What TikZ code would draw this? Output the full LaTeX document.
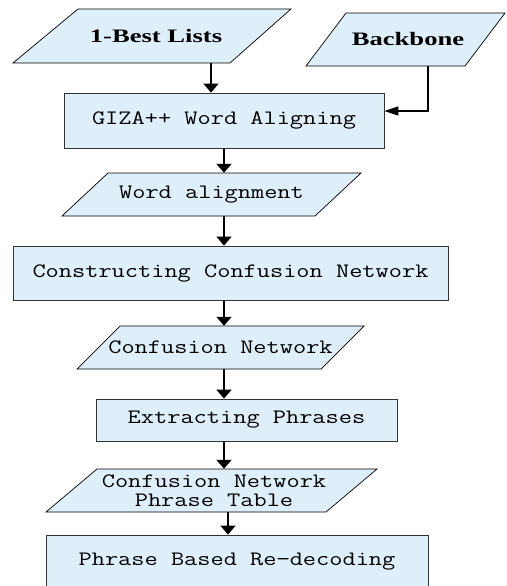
\documentclass[tikz,border=0pt]{standalone}
\usepackage{fontspec}
\newfontfamily\boxfont{Latin Modern Mono}[FakeStretch=1.25]
\newfontfamily\headfont{Liberation Serif}[FakeStretch=1.4]
\usetikzlibrary{arrows.meta}
\definecolor{boxblue}{RGB}{222,239,250}
\tikzset{
  procbox/.style={draw=black!80, fill=boxblue, line width=.8pt, inner sep=0pt,
    font=\boxfont\fontsize{20.5}{19}\selectfont},
  iofill/.style={draw=black, fill=boxblue, line width=.7pt},
  iotext/.style={inner sep=0pt, align=center, font=\boxfont\fontsize{20.5}{19}\selectfont},
  headtext/.style={iotext, font=\headfont\bfseries\fontsize{19}{20}\selectfont},
  flow/.style={->, line width=1.5pt},
}
\begin{document}
\begin{tikzpicture}[x=1pt, y=-1pt, >={Triangle[width=15pt,length=9pt]}]
\useasboundingbox (0,0) rectangle (506,586);
\coordinate(spine) at (224,0);

% inputs
\filldraw[iofill](13,63)--(230,63)--(291,9)--(78,9)--cycle;
\node[headtext, minimum height=54pt](blist) at (156,36){1-Best Lists};
\filldraw[iofill](306,66)--(465,66)--(505,13)--(346,13)--cycle;
\node[headtext, minimum height=53pt](backbone) at (408,39.5){Backbone};

\node[procbox, minimum width=320pt, minimum height=55pt](giza) at (224,120.5){GIZA++ Word Aligning};

\filldraw[iofill](62,216)--(315,216)--(361,173)--(108,173)--cycle;
\node[iotext, minimum height=43pt](walign) at (211.5,194.5){Word alignment};

\node[procbox, minimum width=435pt, minimum height=54pt](construct) at (230.5,273){Constructing Confusion Network};

\filldraw[iofill](77,369)--(321,369)--(364,326)--(120,326)--cycle;
\node[iotext, minimum height=43pt](cnet) at (220.5,347.5){Confusion Network};

\node[procbox, minimum width=301pt, minimum height=42pt](extract) at (246.5,420){Extracting Phrases};

\filldraw[iofill](46,512)--(326,512)--(377,469)--(97,469)--cycle;
\node[iotext, minimum height=43pt](cnpt) at (214,490.5){Confusion Network\\Phrase Table};

\node[procbox, minimum width=382pt, minimum height=54pt](redecode) at (237,562){Phrase Based Re−decoding};

% arrows
\draw[flow]([xshift=-13pt]giza.north |- blist.south)--([xshift=-13pt]giza.north);
\draw[flow, -{Triangle[width=9pt,length=14pt]}]([xshift=20pt]backbone.south) |- ([yshift=9.5pt]giza.east);
\draw[flow](giza.south)--(spine |- walign.north);
\draw[flow](spine |- walign.south)--(spine |- construct.north);
\draw[flow](spine |- construct.south)--(spine |- cnet.north);
\draw[flow](spine |- cnet.south)--(spine |- extract.north);
\draw[flow](spine |- extract.south)--(spine |- cnpt.north);
\draw[flow]([xshift=4pt]spine |- cnpt.south)--([xshift=4pt]spine |- redecode.north);
\end{tikzpicture}
\end{document}
